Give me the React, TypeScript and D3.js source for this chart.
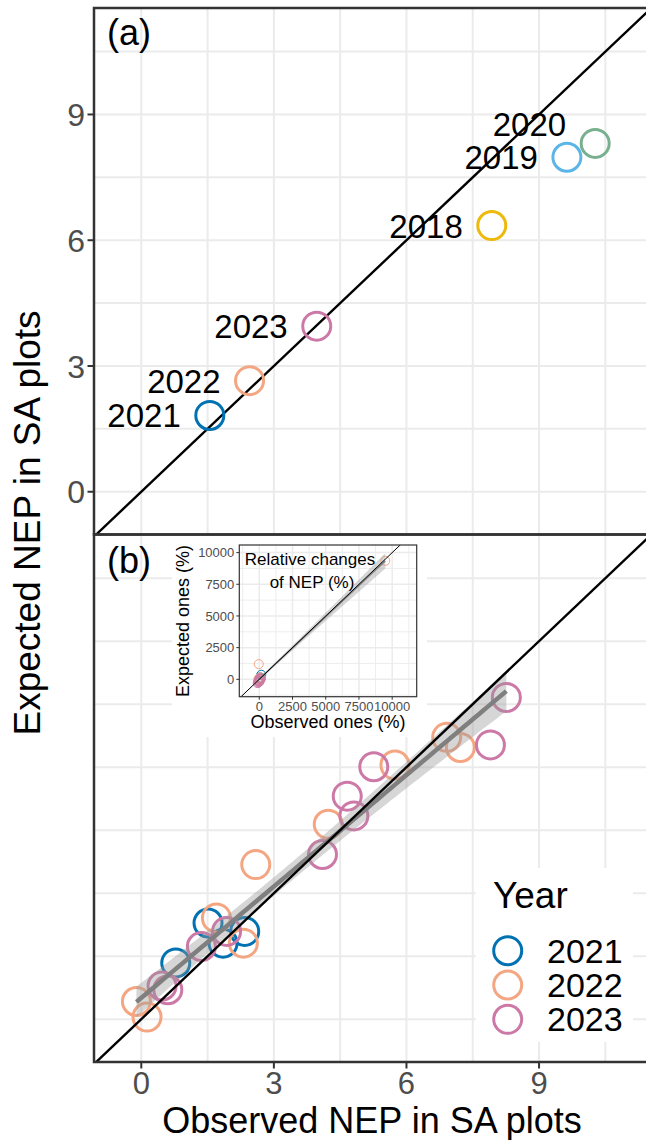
import React from "react";
import * as d3 from "d3";

// ---------- data ----------
const yearsA = [2018, 2019, 2020, 2021, 2022, 2023];
const obsA = [7.93, 9.63, 10.27, 1.55, 2.45, 3.97];
const expA = [6.35, 7.98, 8.31, 1.82, 2.65, 3.95];

const legendYears = [2021, 2022, 2023];
const obs2021 = [1.51, 2.34, 1.85, 0.78];
const exp2021 = [2.29, 2.09, 1.81, 1.34];
const obs2022 = [6.91, 7.22, 5.74, 4.23, 2.59, 1.7, 2.31, -0.11, 0.13];
const exp2022 = [6.71, 6.47, 6.05, 4.64, 3.68, 2.41, 1.81, 0.42, 0.05];
const obs2023 = [8.26, 7.9, 5.26, 4.66, 4.81, 4.1, 1.93, 1.36, 0.47, 0.6];
const exp2023 = [7.66, 6.53, 6.01, 5.31, 4.84, 3.92, 2.09, 1.73, 0.79, 0.7];

// inset: relative changes (%)
const relObs2021 = [150, 60, 110, 20];
const relExp2021 = [360, 150, 90, 40];
const relObs2022 = [-40, 9480, 30, 80, -20, 120, 10, -60, 50];
const relExp2022 = [1200, 9350, 100, -50, 60, 150, -120, 20, 30];
const relObs2023 = [-80, -30, 20, 60, -120, 0, 40, -60, 100, -10];
const relExp2023 = [-250, -150, -60, 30, -300, -200, 80, -100, 10, -180];

const mainTicks = [0, 3, 6, 9];
const mainGrid = [0, 1.5, 3, 4.5, 6, 7.5, 9, 10.5];
const insetTicks = [0, 2500, 5000, 7500, 10000];
const insetMinor = [-1250, 1250, 3750, 6250, 8750, 11250];

const yearColor: Record<number, string> = {
  2018: "#EDB90A",
  2019: "#5BB5E8",
  2020: "#78AF8E",
  2021: "#0072B2",
  2022: "#F4A582",
  2023: "#CC79A7",
};
const labelShiftY: Record<number, number> = { 2020: -19 };

// ---------- helpers ----------
function tQuant(df: number) {
  const z = 1.959964;
  return (
    z +
    (z ** 3 + z) / (4 * df) +
    (5 * z ** 5 + 16 * z ** 3 + 3 * z) / (96 * df * df)
  );
}
function linFit(xs: number[], ys: number[]) {
  const n = xs.length;
  const mx = d3.mean(xs)!;
  const my = d3.mean(ys)!;
  let sxx = 0, sxy = 0;
  xs.forEach((x, i) => {
    sxx += (x - mx) ** 2;
    sxy += (x - mx) * (ys[i] - my);
  });
  const b = sxy / sxx;
  const a = my - b * mx;
  let sse = 0;
  xs.forEach((x, i) => (sse += (ys[i] - (a + b * x)) ** 2));
  const s = Math.sqrt(sse / (n - 2));
  const t = tQuant(n - 2);
  const [x0, x1] = d3.extent(xs) as [number, number];
  return d3.range(0, 81).map((k) => {
    const x = x0 + ((x1 - x0) * k) / 80;
    const yh = a + b * x;
    const se = s * Math.sqrt(1 / n + (x - mx) ** 2 / sxx);
    return { x, y: yh, lo: yh - t * se, hi: yh + t * se };
  });
}

const FONT = "'Liberation Sans', Arial, Helvetica, sans-serif";
const W = 646, H = 1140;
const L = 94, R = 660;
const TOP_A = 8, MID = 534.5, BOT_B = 1062;

export default function App() {
  const x = d3.scaleLinear().domain([-1.07, 11.42]).range([L, 646]);
  const yA = d3.scaleLinear().domain([-1.02, 11.54]).range([MID, TOP_A]);
  const yB = d3.scaleLinear().domain([-1.02, 11.54]).range([BOT_B, MID]);

  const groups = [
    { year: 2021, xs: obs2021, ys: exp2021 },
    { year: 2022, xs: obs2022, ys: exp2022 },
    { year: 2023, xs: obs2023, ys: exp2023 },
  ];
  const fit = linFit([...obs2021, ...obs2022, ...obs2023], [...exp2021, ...exp2022, ...exp2023]);

  const ribbonB = d3.area<any>().x((d) => x(d.x)).y0((d) => yB(d.lo)).y1((d) => yB(d.hi))(fit)!;
  const lineB = d3.line<any>().x((d) => x(d.x)).y((d) => yB(d.y))(fit)!;

  // inset
  const ix = d3.scaleLinear().domain([-1503, 11843]).range([239.3, 416.7]);
  const iy = d3.scaleLinear().domain([-1372, 10600]).range([696.7, 545]);
  const igroups = [
    { year: 2021, xs: relObs2021, ys: relExp2021 },
    { year: 2022, xs: relObs2022, ys: relExp2022 },
    { year: 2023, xs: relObs2023, ys: relExp2023 },
  ];
  const ifit = linFit(
    [...relObs2021, ...relObs2022, ...relObs2023],
    [...relExp2021, ...relExp2022, ...relExp2023]
  );
  const ribbonI = d3.area<any>().x((d) => ix(d.x)).y0((d) => iy(d.lo)).y1((d) => iy(d.hi))(ifit)!;
  const lineI = d3.line<any>().x((d) => ix(d.x)).y((d) => iy(d.y))(ifit)!;

  const gridCol = "#EBEBEB";
  const borderCol = "#333333";

  const grid = (ys: d3.ScaleLinear<number, number>, top: number, bot: number) => (
    <g>
      {mainGrid.map((v) => (
        <line key={"h" + v} x1={L} x2={R} y1={ys(v)} y2={ys(v)} stroke={gridCol} strokeWidth={2} />
      ))}
      {mainGrid.map((v) => (
        <line key={"v" + v} x1={x(v)} x2={x(v)} y1={top} y2={bot} stroke={gridCol} strokeWidth={2} />
      ))}
    </g>
  );

  const ixr = ix.range();
  const iyr = iy.range();

  return (
    <svg
      width={W}
      height={H}
      style={{ position: "absolute", left: 0, top: 0, background: "#fff" }}
      fontFamily={FONT}
    >
      <defs>
        <clipPath id="clipA">
          <rect x={L} y={TOP_A} width={R - L} height={MID - TOP_A} />
        </clipPath>
        <clipPath id="clipB">
          <rect x={L} y={MID} width={R - L} height={BOT_B - MID} />
        </clipPath>
        <clipPath id="clipI">
          <rect x={ixr[0]} y={iyr[1]} width={ixr[1] - ixr[0]} height={iyr[0] - iyr[1]} />
        </clipPath>
      </defs>
      <rect x={0} y={0} width={W} height={H} fill="#fff" />

      {/* ---------- panel (a) ---------- */}
      <g clipPath="url(#clipA)">
        {grid(yA, TOP_A, MID)}
        <line x1={x(-2)} y1={yA(-2)} x2={x(13)} y2={yA(13)} stroke="#000" strokeWidth={2.4} />
        {yearsA.map((yr, i) => (
          <circle key={yr} cx={x(obsA[i])} cy={yA(expA[i])} r={14} fill="none" stroke={yearColor[yr]} strokeWidth={3} />
        ))}
        {yearsA.map((yr, i) => (
          <text
            key={"t" + yr}
            x={x(obsA[i]) - 29}
            y={yA(expA[i]) + 12 + (labelShiftY[yr] || 0)}
            fontSize={33}
            textAnchor="end"
            fill="#000"
          >
            {yr}
          </text>
        ))}
      </g>
      <text x={107} y={45} fontSize={36} fill="#000">(a)</text>

      {/* ---------- panel (b) ---------- */}
      <g clipPath="url(#clipB)">
        {grid(yB, MID, BOT_B)}
        {groups.map((g) =>
          g.xs.map((v, i) => (
            <circle
              key={g.year + "-" + i}
              cx={x(v)}
              cy={yB(g.ys[i])}
              r={14}
              fill="none"
              stroke={yearColor[g.year]}
              strokeWidth={3}
            />
          ))
        )}
        <path d={ribbonB} fill="#999999" fillOpacity={0.4} />
        <path d={lineB} fill="none" stroke="#7F7F7F" strokeWidth={4.5} />
        <line x1={x(-2)} y1={yB(-2)} x2={x(13)} y2={yB(13)} stroke="#000" strokeWidth={2.4} />
      </g>
      <text x={107} y={573} fontSize={36} fill="#000">(b)</text>

      {/* legend */}
      <rect x={476} y={868} width={157} height={174} fill="#fff" />
      <text x={493} y={908} fontSize={37} fill="#000">Year</text>
      {legendYears.map((yr, i) => (
        <g key={"lg" + yr}>
          <circle cx={507.7} cy={950.7 + i * 34.3} r={14} fill="none" stroke={yearColor[yr]} strokeWidth={3} />
          <text x={547} y={950.7 + i * 34.3 + 12} fontSize={34} fill="#000">{yr}</text>
        </g>
      ))}

      {/* ---------- inset ---------- */}
      <rect x={172} y={536} width={255} height={201} fill="#fff" />
      <g clipPath="url(#clipI)">
        {insetMinor.map((v) => (
          <g key={"im" + v}>
            <line x1={ixr[0]} x2={ixr[1]} y1={iy(v)} y2={iy(v)} stroke={gridCol} strokeWidth={0.9} />
            <line x1={ix(v)} x2={ix(v)} y1={iyr[0]} y2={iyr[1]} stroke={gridCol} strokeWidth={0.9} />
          </g>
        ))}
        {insetTicks.map((v) => (
          <g key={"ij" + v}>
            <line x1={ixr[0]} x2={ixr[1]} y1={iy(v)} y2={iy(v)} stroke={gridCol} strokeWidth={1.5} />
            <line x1={ix(v)} x2={ix(v)} y1={iyr[0]} y2={iyr[1]} stroke={gridCol} strokeWidth={1.5} />
          </g>
        ))}
        {igroups.map((g) =>
          g.xs.map((v, i) => (
            <circle
              key={"i" + g.year + "-" + i}
              cx={ix(v)}
              cy={iy(g.ys[i])}
              r={4.5}
              fill="none"
              stroke={yearColor[g.year]}
              strokeWidth={1}
            />
          ))
        )}
        <path d={ribbonI} fill="#999999" fillOpacity={0.4} />
        <path d={lineI} fill="none" stroke="#7F7F7F" strokeWidth={1.5} />
        <line x1={ix(-2000)} y1={iy(-2000)} x2={ix(13000)} y2={iy(13000)} stroke="#000" strokeWidth={1} />
        <text x={310} y={565} fontSize={17} textAnchor="middle" fill="#000">Relative changes</text>
        <text x={312} y={588} fontSize={17} textAnchor="middle" fill="#000">of NEP (%)</text>
      </g>
      <rect
        x={ixr[0]}
        y={iyr[1]}
        width={ixr[1] - ixr[0]}
        height={iyr[0] - iyr[1]}
        fill="none"
        stroke={borderCol}
        strokeWidth={1.2}
      />
      {insetTicks.map((v) => (
        <g key={"it" + v}>
          <line x1={ixr[0] - 3} x2={ixr[0]} y1={iy(v)} y2={iy(v)} stroke={borderCol} strokeWidth={1} />
          <text x={ixr[0] - 5} y={iy(v)} dy="0.35em" fontSize={13} textAnchor="end" fill="#4D4D4D">{v}</text>
          <line x1={ix(v)} x2={ix(v)} y1={iyr[0]} y2={iyr[0] + 3} stroke={borderCol} strokeWidth={1} />
          <text x={ix(v)} y={iyr[0] + 14} fontSize={13} textAnchor="middle" fill="#4D4D4D">{v}</text>
        </g>
      ))}
      <text x={328} y={728} fontSize={18} textAnchor="middle" fill="#000">Observed ones (%)</text>
      <text transform={`translate(189,621) rotate(-90)`} fontSize={18} textAnchor="middle" fill="#000">
        Expected ones (%)
      </text>

      {/* ---------- borders ---------- */}
      <rect x={L} y={TOP_A} width={R - L} height={MID - TOP_A} fill="none" stroke={borderCol} strokeWidth={2.5} />
      <rect x={L} y={MID} width={R - L} height={BOT_B - MID} fill="none" stroke={borderCol} strokeWidth={2.5} />

      {/* y axis (a) */}
      {mainTicks.map((v) => (
        <g key={"ya" + v}>
          <line x1={L - 6.5} x2={L} y1={yA(v)} y2={yA(v)} stroke={borderCol} strokeWidth={2} />
          <text x={85} y={yA(v)} dy="0.36em" fontSize={32} textAnchor="end" fill="#4D4D4D">{v}</text>
        </g>
      ))}
      {/* x axis */}
      {mainTicks.map((v) => (
        <g key={"xb" + v}>
          <line x1={x(v)} x2={x(v)} y1={BOT_B} y2={BOT_B + 6.5} stroke={borderCol} strokeWidth={2} />
          <text x={x(v)} y={1094} fontSize={31} textAnchor="middle" fill="#4D4D4D">{v}</text>
        </g>
      ))}

      <text x={372} y={1132.5} fontSize={36} textAnchor="middle" fill="#000">Observed NEP in SA plots</text>
      <text transform={`translate(40,523) rotate(-90)`} fontSize={37} textAnchor="middle" fill="#000">
        Expected NEP in SA plots
      </text>
    </svg>
  );
}
